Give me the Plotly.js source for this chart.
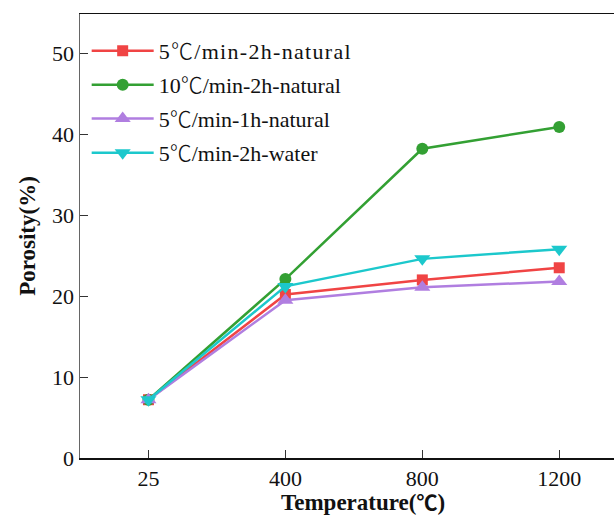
<!DOCTYPE html>
<html>
<head>
<meta charset="utf-8">
<script src="https://cdn.plot.ly/plotly-3.0.1.min.js"></script>
<style>
html,body{margin:0;padding:0;background:#fff;}
#chart{width:614px;height:518px;}
.legendtext{letter-spacing:1.3px;}
</style>
</head>
<body>
<div id="chart"></div>
<script>
const temperatures = ["25", "400", "800", "1200"];
const seriesNames = ["5℃/min-2h-natural", "10℃/min-2h-natural", "5℃/min-1h-natural", "5℃/min-2h-water"];
const rate5_2h_natural = [7.2, 20.2, 22.0, 23.5];
const rate10_2h_natural = [7.2, 22.1, 38.2, 40.9];
const rate5_1h_natural = [7.2, 19.5, 21.1, 21.8];
const rate5_2h_water = [7.2, 21.2, 24.6, 25.8];
const yTicks = [0, 10, 20, 30, 40, 50];

const colors = ["#f04444", "#33a033", "#b07ee0", "#1cc8cc"];
const symbols = ["square", "circle", "triangle-up", "triangle-down"];
const sizes = [11, 12, 14, 14];
const values = [rate5_2h_natural, rate10_2h_natural, rate5_1h_natural, rate5_2h_water];
const legendIds = ["legend", "legend2", "legend3", "legend4"];
const legendY = [0.917, 0.840, 0.764, 0.687];

const degC = s => s.replace("℃", '<span style="font-family:\'Noto Sans CJK SC\';font-weight:300">℃</span>');

const data = values.map((v, i) => ({
  x: temperatures,
  y: v,
  name: degC(seriesNames[i]),
  legend: legendIds[i],
  type: "scatter",
  mode: "lines+markers",
  line: {color: colors[i], width: 2.5},
  marker: {color: colors[i], symbol: symbols[i], size: sizes[i]}
}));

const font = "'Liberation Serif', 'DejaVu Serif', serif";
const layout = {
  width: 614, height: 518,
  margin: {l: 80, r: 0, t: 14, b: 60},
  paper_bgcolor: "#fff", plot_bgcolor: "#fff",
  font: {family: font, size: 22, color: "#111"},
  showlegend: true,
  xaxis: {
    type: "category", range: [-0.5, 3.4],
    showline: true, linecolor: "#111", linewidth: 1.5, mirror: true,
    ticks: "inside", ticklen: 8, tickcolor: "#333",
    showgrid: false, zeroline: false,
    tickfont: {family: font, size: 22, color: "#111"}
  },
  yaxis: {
    range: [0, 54.85], tickvals: yTicks,
    showline: true, linecolor: "#666", linewidth: 1.5,
    ticks: "inside", ticklen: 8, tickcolor: "#333",
    showgrid: false, zeroline: false,
    tickfont: {family: font, size: 22, color: "#111"},
    title: {text: "<b>Porosity(%)</b>", font: {family: font, size: 23, color: "#111"}, standoff: 10}
  },
  annotations: [{
    xref: "paper", yref: "paper", x: 0.53, y: -0.096, xanchor: "center", yanchor: "middle",
    showarrow: false, text: "<b>Temperature(" + '<span style="font-family:\'Noto Sans CJK SC\';font-size:21px">℃</span>' + ")</b>",
    font: {family: font, size: 23, color: "#111"}
  }]
};
legendIds.forEach((id, i) => {
  layout[id] = {x: 0.0125, y: legendY[i], xanchor: "left", yanchor: "middle",
    bgcolor: "rgba(0,0,0,0)", itemwidth: 62,
    font: {family: font, size: 22, color: "#111"}};
});

Plotly.newPlot("chart", data, layout, {displayModeBar: false, staticPlot: true});
</script>
</body>
</html>
